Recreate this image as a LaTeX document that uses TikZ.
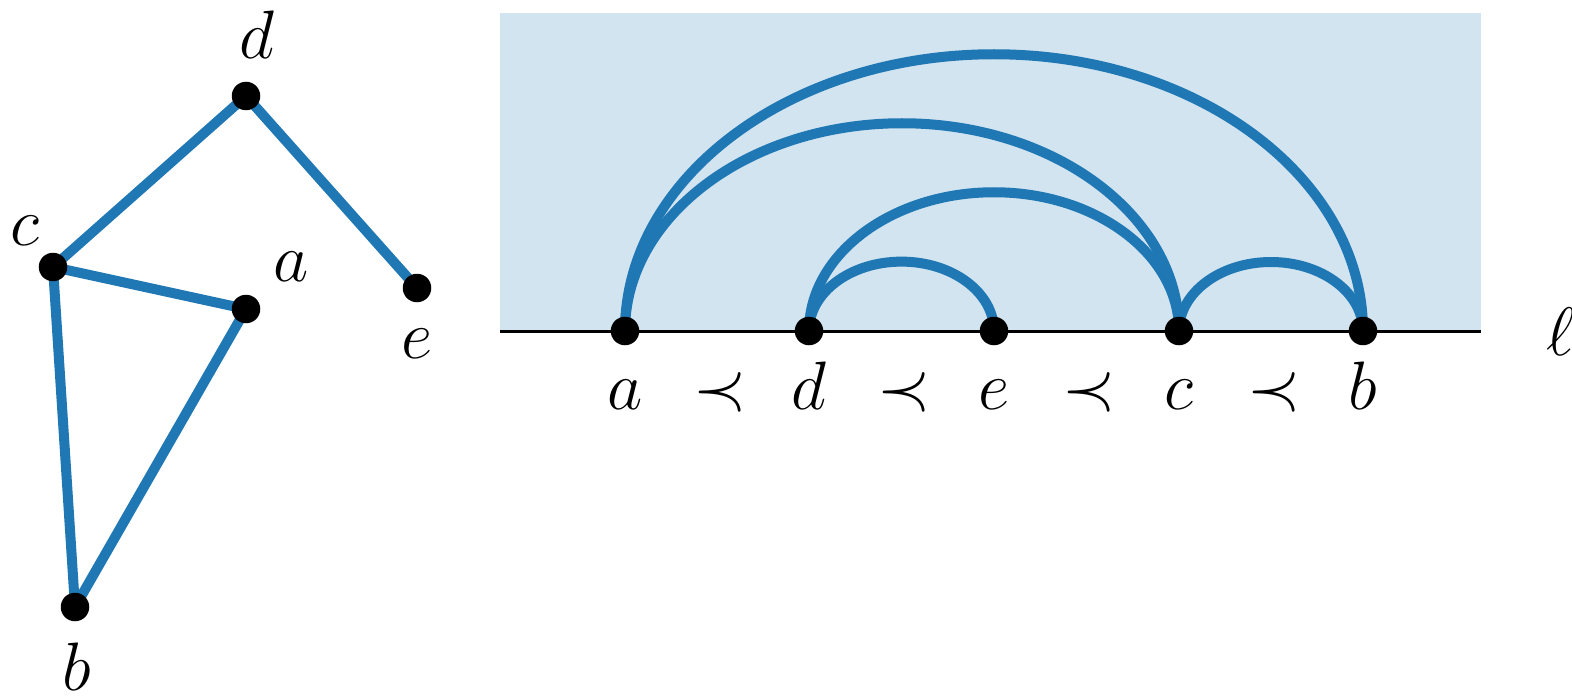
\documentclass[tikz,border=0pt]{standalone}
\usepackage{fix-cm}
\usetikzlibrary{calc}
\definecolor{arcblue}{HTML}{1F77B4}
\definecolor{halfplane}{RGB}{210,228,240}
\tikzset{
  vtx/.style={circle,fill=black,inner sep=0pt,minimum size=5.7mm},
  edge/.style={arcblue,line width=2mm},
  lbl/.style={anchor=base,inner sep=0pt,font=\fontsize{39}{47}\selectfont}
}
\begin{document}
\begin{tikzpicture}[x=0.2mm,y=0.2mm,line cap=round,line join=round]
  \useasboundingbox (0,0) rectangle (1572,696);
  % graph on the left
  \coordinate (d) at (246,600);
  \coordinate (c) at (53,429);
  \coordinate (a) at (246,387);
  \coordinate (e) at (417,408);
  \coordinate (b) at (75,89);
  \foreach \u/\v in {d/c,d/e,c/a,c/b,a/b}
    \draw[edge] (\u) -- (\v);
  \foreach \v in {a,b,c,d,e}
    \node[vtx] (\v dot) at (\v) {};
  \node[lbl] (la) at (291,415) {$a$};
  \node[lbl] (lb) at (77,6) {$b$};
  \node[lbl] (lc) at (25,451) {$c$};
  \node[lbl] (ld) at (257,637) {$d$};
  \node[lbl] (le) at (417,338) {$e$};
  % half plane + spine
  \coordinate (sl) at (500,365);
  \coordinate (sr) at (1481,365);
  \fill[halfplane] (sl) rectangle (1481,683);
  \draw[line width=0.6mm,line cap=butt] (sl) -- (sr);
  \node[lbl,anchor=base west] (ell) at (1546,341) {$\ell$};
  % vertices on the line
  \coordinate (pa) at (625,365);
  \coordinate (pd) at (809,365);
  \coordinate (pe) at (994,365);
  \coordinate (pc) at (1179,365);
  \coordinate (pb) at (1363,365);
  % arcs as half ellipses
  \foreach \s/\t in {pa/pb,pa/pc,pd/pc,pd/pe,pc/pb}
    \draw[edge] let \p1=(\s), \p2=(\t), \n1={(\x2-\x1)/2} in
      (\s) arc[start angle=180,end angle=0,x radius=\n1,y radius=0.75*\n1];
  \foreach \v in {a,d,e,c,b}
    \node[vtx] (p\v dot) at (p\v) {};
  % order
  \foreach \v in {a,d,e,c,b}
    \node[lbl] (o\v) at ($(p\v)+(0,-78)$) {$\v$};
  \foreach \u/\v in {a/d,d/e,e/c,c/b}
    \node[lbl] (prec\u) at ($(p\u)!0.5!(p\v)+(3,-78)$) {$\prec$};
\end{tikzpicture}
\end{document}
